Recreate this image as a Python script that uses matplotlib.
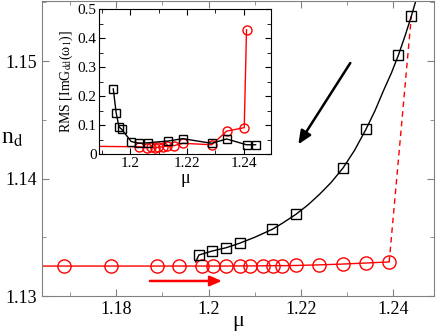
import matplotlib
matplotlib.use("Agg")
import matplotlib.pyplot as plt
from matplotlib.ticker import MultipleLocator, FuncFormatter

plt.rcParams['font.family'] = ['Liberation Serif', 'DejaVu Serif']
plt.rcParams['mathtext.fontset'] = 'stix'

# main panel: forward sweep (red circles), first value only starts the line
mu_up = [1.160, 1.1688, 1.1788, 1.1888, 1.1937, 1.1986, 1.2009, 1.2038, 1.2067, 1.2089,
         1.2118, 1.2140, 1.2158, 1.2189, 1.2240, 1.2291, 1.2341, 1.2391]
nd_up = [1.13255, 1.13255, 1.13255, 1.13255, 1.13255, 1.13255, 1.13255, 1.13255, 1.13256,
         1.13256, 1.13257, 1.13258, 1.13258, 1.13260, 1.13265, 1.13272, 1.13281, 1.13290]

# main panel: backward sweep (black squares)
mu_down = [1.1979, 1.2008, 1.2038, 1.2067, 1.2138, 1.2189, 1.2291, 1.2341, 1.2411, 1.2439]
nd_down = [1.13349, 1.13383, 1.13411, 1.13449, 1.13568, 1.13695, 1.14089, 1.14421, 1.15051, 1.15383]
# black guide curve
mu_fit = [1.1972, 1.1979, 1.2008, 1.2038, 1.2067, 1.2100, 1.2138, 1.2160, 1.2189, 1.2215,
          1.2240, 1.2265, 1.2291, 1.2316, 1.2341, 1.2360, 1.2380, 1.2396, 1.2411, 1.2425,
          1.2439, 1.2450]
nd_fit = [1.13290, 1.13349, 1.13383, 1.13411, 1.13449, 1.13500, 1.13568, 1.13620, 1.13695,
          1.13775, 1.13865, 1.13965, 1.14089, 1.14240, 1.14421, 1.14575, 1.14760, 1.14900,
          1.15051, 1.15210, 1.15383, 1.15530]

# inset: RMS of Im G_dd(omega_1)
mu_rms_up = [1.160, 1.2033, 1.2059, 1.2074, 1.2089, 1.2097, 1.2115, 1.2129, 1.2155,
             1.2185, 1.2287, 1.2339, 1.2401, 1.2409]
rms_up = [0.029, 0.025, 0.022, 0.024, 0.021, 0.023, 0.025, 0.027, 0.029,
          0.037, 0.032, 0.079, 0.091, 0.429]
mu_rms_down = [1.1941, 1.1951, 1.1961, 1.1971, 1.2004, 1.2033, 1.2064, 1.2134, 1.2185,
               1.2287, 1.2339, 1.2409, 1.2441]
rms_down = [0.225, 0.143, 0.094, 0.085, 0.043, 0.037, 0.039, 0.045, 0.053,
            0.037, 0.052, 0.032, 0.032]

fig = plt.figure(figsize=(4.36, 3.31), dpi=100)
ax = fig.add_axes([0.097, 0.1057, 0.8984, 0.891])

ax.plot(mu_up, nd_up, color='red', lw=1.0, marker='o', ms=9.5, mfc='none',
        mec='red', mew=1.0, markevery=list(range(1, len(mu_up))))
ax.plot([mu_up[-1], mu_down[-1]], [nd_up[-1], nd_down[-1]], color='red', lw=1.0, ls=(0, (4, 3)))
ax.plot(mu_fit, nd_fit, color='black', lw=1.0)
ax.plot(mu_down, nd_down, ls='none', marker='s', ms=7.5, mfc='none', mec='black', mew=1.0)

ax.annotate('', xy=(1.2035, 1.13128), xytext=(1.1867, 1.13128),
            arrowprops=dict(arrowstyle='-|>,head_length=0.7,head_width=0.3', color='red', lw=1.8))
ax.annotate('', xy=(1.2191, 1.14271), xytext=(1.2310, 1.15003),
            arrowprops=dict(arrowstyle='-|>,head_length=0.8,head_width=0.35', color='black', lw=1.8))

ax.set_xlim(1.164, 1.2488)
ax.set_ylim(1.13, 1.1551)
ax.xaxis.set_major_locator(MultipleLocator(0.02))
ax.xaxis.set_minor_locator(MultipleLocator(0.01))
ax.yaxis.set_major_locator(MultipleLocator(0.01))
ax.yaxis.set_minor_locator(MultipleLocator(0.005))
fmt = FuncFormatter(lambda v, p: '%g' % round(v, 4))
ax.xaxis.set_major_formatter(fmt)
ax.yaxis.set_major_formatter(fmt)
ax.tick_params(which='both', direction='in', top=True, right=True, color='#808080',
               labelsize=13)
ax.tick_params(which='major', length=5)
ax.tick_params(which='minor', length=3)
for s in ax.spines.values():
    s.set_color('#808080')
ax.set_xlabel('μ', fontsize=16, labelpad=-4)
ax.set_ylabel(r'n$_{\rm d}$', fontsize=17, rotation=0, labelpad=8)
ax.yaxis.set_label_coords(-0.078, 0.5)

ins = fig.add_axes([0.2278, 0.5347, 0.3931, 0.4372])
ins.plot(mu_rms_up, rms_up, color='red', lw=1.0, marker='o', ms=6.5, mfc='none',
         mec='red', mew=1.0, markevery=list(range(1, len(mu_rms_up))))
ins.plot(mu_rms_down, rms_down, color='black', lw=1.0, marker='s', ms=5.5, mfc='none',
         mec='black', mew=1.0)
ins.set_xlim(1.1892, 1.2494)
ins.set_ylim(0, 0.5)
ins.xaxis.set_major_locator(MultipleLocator(0.02))
ins.xaxis.set_minor_locator(MultipleLocator(0.01))
ins.yaxis.set_major_locator(MultipleLocator(0.1))
ins.yaxis.set_minor_locator(MultipleLocator(0.05))
ins.xaxis.set_major_formatter(fmt)
ins.yaxis.set_major_formatter(fmt)
ins.tick_params(which='both', direction='in', top=True, right=True, labelsize=11, pad=2)
ins.tick_params(which='major', length=4)
ins.tick_params(which='minor', length=3)
ins.set_xlabel('μ', fontsize=13, labelpad=0)
ins.set_ylabel(r'RMS [ImG$_{\rm dd}$(ω$_{\rm 1}$)]', fontsize=10, labelpad=2)

fig.savefig('out.png', dpi=100)
